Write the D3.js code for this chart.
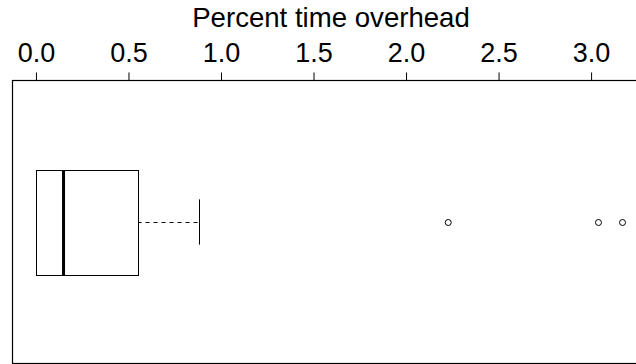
<!DOCTYPE html>
<html>
<head>
<meta charset="utf-8">
<script src="https://cdn.jsdelivr.net/npm/d3@7"></script>
<style>
  body { margin: 0; background: #fff; }
  svg { display: block; }
  text { font-family: "Liberation Sans", Arial, Helvetica, sans-serif; fill: #000; }
</style>
</head>
<body>
<svg id="chart" width="636" height="364"></svg>
<script>
// box stats (percent)
const boxStats = [0.0, 0.0, 0.149, 0.549, 0.882]  // lower whisker, q1, median, q3, upper whisker
const outliers = [2.228, 3.04, 3.17]
const tickValues = [0.0, 0.5, 1.0, 1.5, 2.0, 2.5, 3.0]
const title = "Percent time overhead"

const svg = d3.select('#chart')

const plotLeft = 12.5, plotRight = 646, plotTop = 80.5, plotBottom = 363.5

// R style: extend data range by 4% each side
const lo = d3.min([boxStats[0], ...outliers])
const hi = d3.max([boxStats[4], ...outliers])
const pad = (hi - lo) * 0.04

const x = d3.scaleLinear()
    .domain([lo - pad, hi + pad])
    .range([plotLeft, plotRight])

// one group, vertical position within the frame
const y = d3.scaleLinear()
    .domain([0, 1])
    .range([plotTop, plotBottom])

// frame
svg.append('rect')
    .attr('x', plotLeft)
    .attr('y', plotTop)
    .attr('width', plotRight - plotLeft)
    .attr('height', plotBottom - plotTop)
    .attr('fill', 'none')
    .attr('stroke', '#000')
    .attr('stroke-width', 1.2)

// top axis
const axis = svg.append('g')
    .attr('transform', `translate(0, ${plotTop})`)
    .call(d3.axisTop(x)
        .tickValues(tickValues)
        .tickFormat(d3.format('.1f'))
        .tickSize(8)
        .tickPadding(11))

axis.select('.domain').remove()
axis.selectAll('.tick line').attr('stroke', '#000')
axis.selectAll('.tick text')
    .attr('font-size', 27)
    .attr('fill', '#000')
    .style('font-family', '"Liberation Sans", Arial, sans-serif')

// title
svg.append('text')
    .attr('x', 331)
    .attr('y', 26.5)
    .attr('text-anchor', 'middle')
    .attr('font-size', 27.6)
    .text(title)

const cy = y(0.5)
const boxTop = y(0.3155), boxBot = y(0.687)
const capTop = y(0.42), capBot = y(0.58)
const snap = v => Math.round(v) + 0.5

// whiskers (dashed)
const g = svg.append('g')
g.append('line')
    .attr('x1', x(boxStats[3])).attr('x2', x(boxStats[4]))
    .attr('y1', snap(cy)).attr('y2', snap(cy))
    .attr('stroke', '#000').attr('stroke-dasharray', '4,4')
g.append('line')
    .attr('x1', x(boxStats[0])).attr('x2', x(boxStats[1]))
    .attr('y1', snap(cy)).attr('y2', snap(cy))
    .attr('stroke', '#000').attr('stroke-dasharray', '4,4')

// staples
g.selectAll('line.cap')
    .data([boxStats[0], boxStats[4]])
    .enter()
    .append('line')
    .attr('class', 'cap')
    .attr('x1', d => snap(x(d))).attr('x2', d => snap(x(d)))
    .attr('y1', capTop).attr('y2', capBot)
    .attr('stroke', '#000')

// box
g.append('rect')
    .attr('x', snap(x(boxStats[1])))
    .attr('y', snap(boxTop))
    .attr('width', Math.round(x(boxStats[3]) - x(boxStats[1])))
    .attr('height', Math.round(boxBot - boxTop))
    .attr('fill', '#fff')
    .attr('stroke', '#000')

// median
g.append('line')
    .attr('x1', x(boxStats[2])).attr('x2', x(boxStats[2]))
    .attr('y1', snap(boxTop)).attr('y2', snap(boxBot))
    .attr('stroke', '#000')
    .attr('stroke-width', 3)

// outliers
g.selectAll('circle')
    .data(outliers)
    .enter()
    .append('circle')
    .attr('cx', d => x(d))
    .attr('cy', cy + 0.5)
    .attr('r', 3)
    .attr('fill', 'none')
    .attr('stroke', '#000')
</script>
</body>
</html>
